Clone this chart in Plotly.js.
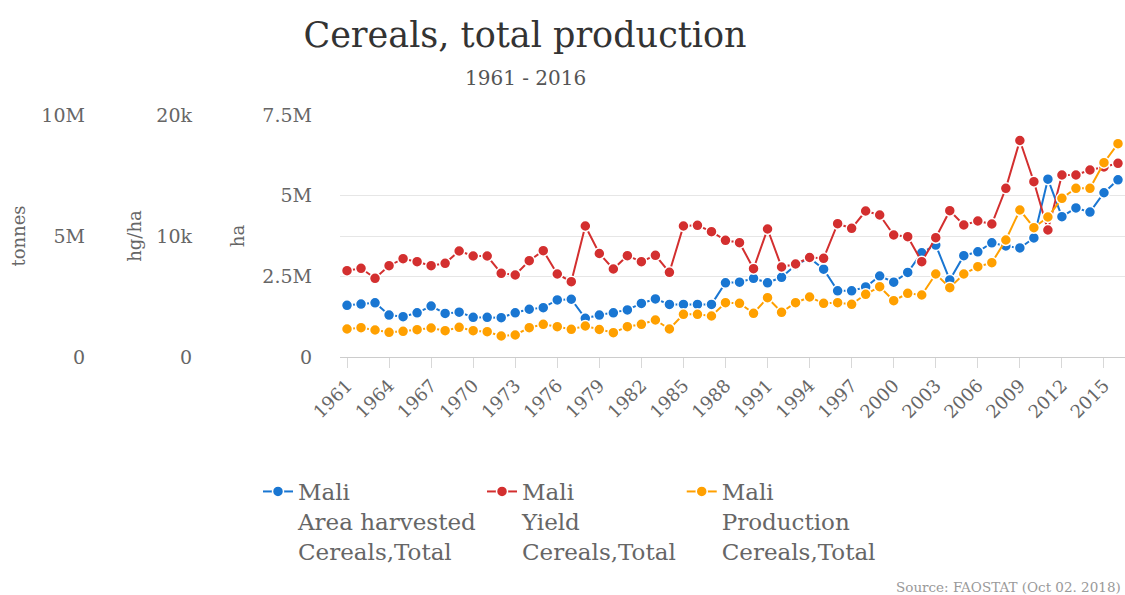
<!DOCTYPE html>
<html>
<head>
<meta charset="utf-8">
<script src="https://cdn.plot.ly/plotly-3.0.1.min.js"></script>
<style>
html,body{margin:0;padding:0;background:#fff;}
#chart{width:1125px;height:595px;}
</style>
</head>
<body>
<div id="chart"></div>
<script>
const years = [1961,1962,1963,1964,1965,1966,1967,1968,1969,1970,1971,1972,1973,1974,1975,1976,1977,1978,1979,1980,1981,1982,1983,1984,1985,1986,1987,1988,1989,1990,1991,1992,1993,1994,1995,1996,1997,1998,1999,2000,2001,2002,2003,2004,2005,2006,2007,2008,2009,2010,2011,2012,2013,2014,2015,2016];

// Area harvested (ha)
const areaHarvested = [1600000,1640000,1680000,1300000,1250000,1370000,1580000,1350000,1390000,1230000,1230000,1220000,1370000,1480000,1530000,1770000,1790000,1200000,1300000,1370000,1460000,1660000,1800000,1630000,1630000,1630000,1630000,2300000,2320000,2440000,2300000,2470000,2850000,3070000,2720000,2050000,2050000,2170000,2510000,2320000,2620000,3230000,3470000,2390000,3140000,3260000,3540000,3440000,3380000,3690000,5510000,4350000,4620000,4490000,5090000,5490000];

// Yield (hg/ha)
const yieldHgHa = [7132,7330,6504,7545,8124,7876,7545,7744,8760,8347,8347,6917,6777,7958,8785,6860,6223,10826,8553,7273,8372,7876,8405,7000,10826,10884,10355,9644,9446,7297,10578,7438,7686,8223,8157,11016,10636,12066,11735,10082,9942,7876,9859,12090,10909,11240,10992,13942,17893,14488,10496,15041,15041,15455,15702,16008];

// Production (tonnes)
const production = [1157000,1211000,1116000,1021000,1062000,1128000,1198000,1087000,1227000,1087000,1045000,868000,909000,1211000,1351000,1252000,1145000,1281000,1136000,1004000,1252000,1351000,1529000,1157000,1764000,1764000,1694000,2244000,2219000,1806000,2450000,1847000,2244000,2479000,2219000,2244000,2178000,2591000,2905000,2326000,2632000,2562000,3430000,2864000,3430000,3731000,3897000,4835000,6074000,5343000,5785000,6558000,6971000,6971000,8029000,8814000];

const seriesNames = [
  "Mali<br>Area harvested<br>Cereals,Total",
  "Mali<br>Yield<br>Cereals,Total",
  "Mali<br>Production<br>Cereals,Total"
];
const colors = ["#1976D2", "#D32F2F", "#FFA000"];

const FONT = "Roboto Slab, DejaVu Serif, serif";

function trace(y, name, color, axis) {
  return {
    x: years, y: y, name: name, yaxis: axis,
    type: "scatter", mode: "lines+markers",
    line: {color: color, width: 2},
    marker: {color: color, size: 11, line: {color: "#ffffff", width: 1.5}},
    hoverinfo: "x+y+name"
  };
}

const data = [
  trace(areaHarvested, seriesNames[0], colors[0], "y"),
  trace(yieldHgHa, seriesNames[1], colors[1], "y2"),
  trace(production, seriesNames[2], colors[2], "y3")
];

const W = 1125, H = 595, T = 115, B = 238;
const plotH = H - T - B;
function py(pix) { return (H - B - pix) / plotH; }

const tickFont = {family: FONT, size: 19, color: "#666666"};
const titleFont = {family: FONT, size: 18, color: "#666666"};

const layout = {
  width: W, height: H,
  margin: {l: 0, r: 0, t: T, b: B, pad: 0},
  paper_bgcolor: "#ffffff", plot_bgcolor: "#ffffff",
  font: {family: FONT, color: "#666666"},
  title: {
    text: "Cereals, total production",
    font: {family: FONT, size: 35, color: "#333333"},
    xref: "container", x: 525 / W, xanchor: "center",
    yref: "container", y: 1 - 35 / H, yanchor: "middle"
  },
  showlegend: true,
  legend: {
    orientation: "h",
    x: 258 / W, xanchor: "left",
    y: py(470), yanchor: "top",
    valign: "top",
    font: {family: FONT, size: 23, color: "#666666"},
    bgcolor: "rgba(0,0,0,0)"
  },
  xaxis: {
    domain: [340 / W, 1],
    range: [1960.5, 2016.5],
    tickmode: "linear", tick0: 1961, dtick: 3,
    tickangle: -45,
    ticks: "outside", ticklen: 10, tickcolor: "#d8d8d8", tickwidth: 1,
    showgrid: false, zeroline: false,
    showline: true, linecolor: "#cccccc", linewidth: 1,
    tickfont: {family: FONT, size: 18, color: "#666666"},
    fixedrange: true
  },
  yaxis: {
    range: [0, 7500000], tickmode: "linear", tick0: 0, dtick: 2500000,
    tickformat: "~s",
    anchor: "free", position: 312 / W,
    showgrid: true, gridcolor: "#e6e6e6", gridwidth: 1,
    zeroline: false, showline: false, ticks: "",
    tickfont: tickFont,
    title: {text: "ha", font: titleFont, standoff: 12}
  },
  yaxis2: {
    range: [0, 20000], tickmode: "linear", tick0: 0, dtick: 10000,
    tickformat: "~s",
    overlaying: "y", anchor: "free", position: 192 / W,
    showgrid: true, gridcolor: "#e6e6e6", gridwidth: 1,
    zeroline: false, showline: false, ticks: "",
    tickfont: tickFont,
    title: {text: "hg/ha", font: titleFont, standoff: 8}
  },
  yaxis3: {
    range: [0, 10000000], tickmode: "linear", tick0: 0, dtick: 5000000,
    tickformat: "~s",
    overlaying: "y", anchor: "free", position: 85 / W,
    showgrid: true, gridcolor: "#e6e6e6", gridwidth: 1,
    zeroline: false, showline: false, ticks: "",
    tickfont: tickFont,
    title: {text: "tonnes", font: titleFont, standoff: 10}
  },
  annotations: [
    {
      text: "1961 - 2016", xref: "paper", yref: "paper",
      x: 525 / W, y: py(78), xanchor: "center", yanchor: "middle",
      showarrow: false, font: {family: FONT, size: 20, color: "#555555"}
    },
    {
      text: "Source: FAOSTAT (Oct 02. 2018)", xref: "paper", yref: "paper",
      x: 1123 / W, y: py(587), xanchor: "right", yanchor: "middle",
      showarrow: false, font: {family: FONT, size: 13.5, color: "#999999"}
    }
  ]
};

Plotly.newPlot("chart", data, layout, {displayModeBar: false, responsive: false});
</script>
</body>
</html>
